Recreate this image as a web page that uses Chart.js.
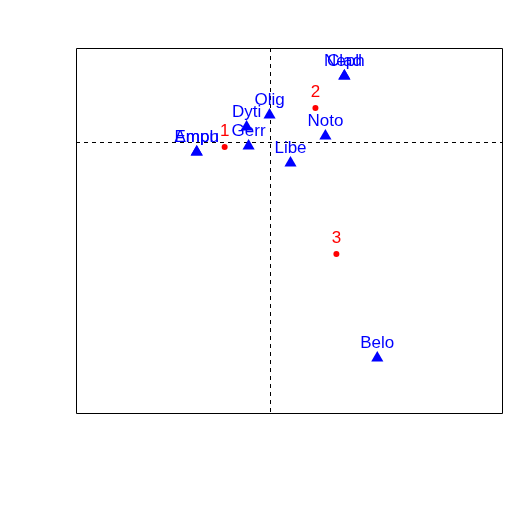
<!DOCTYPE html>
<html>
<head>
<meta charset="utf-8">
<script src="https://cdn.jsdelivr.net/npm/chart.js@4/dist/chart.umd.min.js"></script>
<style>html,body{margin:0;padding:0;background:#fff;}canvas{display:block;}</style>
</head>
<body>
<canvas id="c" width="509" height="509"></canvas>
<script>
// Site scores
const siteLabels = ["1", "2", "3"];
const siteX = [-0.45, 0.46, 0.67];
const siteY = [-0.05, 0.34, -1.12];

// Species scores
const speciesLabels = ["Amph", "Empu", "Dyti", "Olig", "Gerr", "Libe", "Noto", "Neph", "Clad", "Belo"];
const speciesX = [-0.73, -0.73, -0.23, 0.00, -0.21, 0.21, 0.56, 0.75, 0.75, 1.08];
const speciesY = [-0.10, -0.10, 0.15, 0.27, -0.04, -0.21, 0.06, 0.66, 0.66, -2.16];

// Axis ranges
const xRange = [-1.94, 2.33];
const yRange = [-2.71, 0.94];

const toPts = (xs, ys) => xs.map((x, i) => ({ x: x, y: ys[i] }));

const framePlugin = {
  id: 'frame',
  beforeDatasetsDraw(chart) {
    const { ctx, chartArea: a, scales } = chart;
    ctx.save();
    ctx.strokeStyle = '#000';
    ctx.lineWidth = 1;
    ctx.setLineDash([4, 4]);
    const x0 = Math.round(scales.x.getPixelForValue(0)) + 0.5;
    const y0 = Math.round(scales.y.getPixelForValue(0)) + 0.5;
    ctx.beginPath();
    ctx.moveTo(x0, a.top); ctx.lineTo(x0, a.bottom);
    ctx.moveTo(a.left, y0); ctx.lineTo(a.right, y0);
    ctx.stroke();
    ctx.setLineDash([]);
    ctx.beginPath();
    ctx.rect(Math.round(a.left) + 0.5, Math.round(a.top) + 0.5, Math.round(a.right - a.left), Math.round(a.bottom - a.top));
    ctx.stroke();
    ctx.restore();
  },
  afterDatasetsDraw(chart) {
    const { ctx } = chart;
    ctx.save();
    ctx.font = '17px "Liberation Sans", Arial, sans-serif';
    ctx.textAlign = 'center';
    ctx.textBaseline = 'middle';
    chart.data.datasets.forEach((ds, di) => {
      const meta = chart.getDatasetMeta(di);
      ctx.fillStyle = ds.labelColor;
      meta.data.forEach((el, i) => {
        ctx.fillText(ds.pointLabels[i], el.x, el.y - ds.labelOffset);
      });
    });
    ctx.restore();
  }
};

new Chart(document.getElementById('c'), {
  type: 'scatter',
  data: {
    datasets: [
      {
        data: toPts(siteX, siteY),
        pointLabels: siteLabels,
        labelColor: '#ff0000',
        labelOffset: 16,
        pointStyle: 'circle',
        pointRadius: 3,
        backgroundColor: '#ff0000',
        borderColor: '#ff0000',
        borderWidth: 0
      },
      {
        data: toPts(speciesX, speciesY),
        pointLabels: speciesLabels,
        labelColor: '#0000ff',
        labelOffset: 15,
        pointStyle: 'triangle',
        pointRadius: 7,
        backgroundColor: '#0000ff',
        borderColor: '#0000ff',
        borderWidth: 0
      }
    ]
  },
  options: {
    responsive: false,
    animation: false,
    layout: { padding: { left: 76, top: 48, right: 6, bottom: 96 } },
    plugins: { legend: { display: false }, tooltip: { enabled: false } },
    scales: {
      x: { type: 'linear', display: false, min: xRange[0], max: xRange[1] },
      y: { type: 'linear', display: false, min: yRange[0], max: yRange[1] }
    }
  },
  plugins: [framePlugin]
});
</script>
</body>
</html>
